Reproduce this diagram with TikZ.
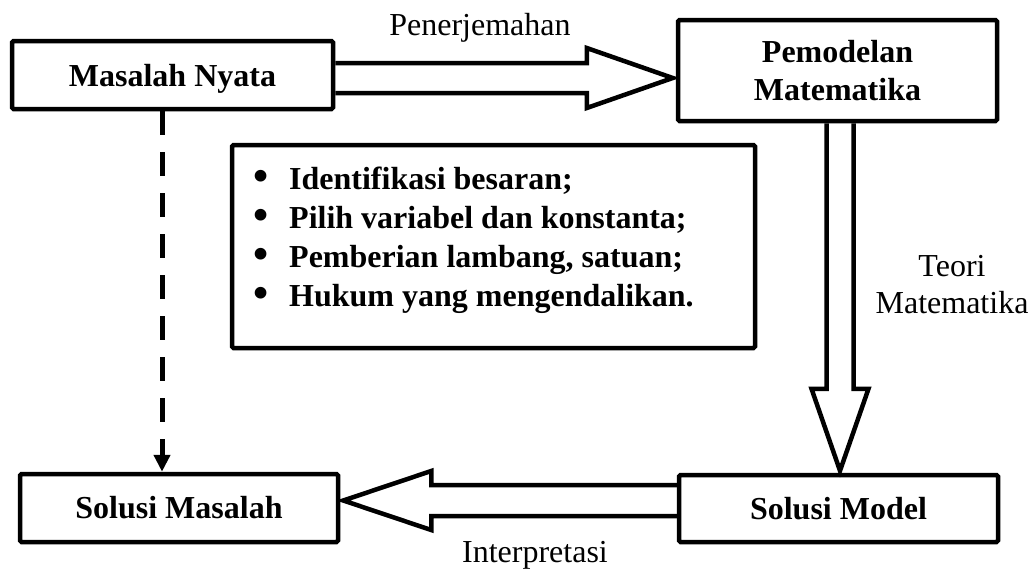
\documentclass[tikz,border=0pt]{standalone}
\usepackage{fontspec}
\setmainfont{Liberation Serif}
\usetikzlibrary{calc,arrows.meta}
\newcommand{\bulitem}{\makebox[35.5pt][l]{\raisebox{-1.5pt}{\scalebox{1.35}{•}}}}
\begin{document}
\begin{tikzpicture}[x=1pt,y=-1pt,
  box/.style={draw, line width=4.5pt, rounded corners=1.5pt, font=\bfseries\fontsize{32}{38}\selectfont, align=center, inner sep=0pt},
  barrow/.style={draw, line width=4.5pt, line join=miter},
  lbl/.style={font=\fontsize{32}{37}\selectfont, align=center, inner sep=0pt},
  dasharrow/.style={line width=5pt, dash pattern=on 24pt off 17pt, -{Triangle[width=16pt,length=17pt]}}]
\useasboundingbox (0,0) rectangle (1035,570);

% boxes
\node[box, minimum width=321pt, minimum height=68pt, text depth=0pt] (mn) at (172.5,75) {Masalah Nyata};
\node[box, minimum width=319pt, minimum height=101pt] (pm) at (837.5,70.5) {Pemodelan\\Matematika};
\node[box, minimum width=319pt, minimum height=67pt] (sm) at (838.5,508.5) {Solusi Model};
\node[box, minimum width=318pt, minimum height=68pt] (sms) at (179,508) {Solusi Masalah};
\node[box, minimum width=523pt, minimum height=203pt] (lb) at (493.5,246.5) {};
\node[anchor=west, font=\bfseries\fontsize{32}{39}\selectfont, align=left, inner sep=0pt] (lt) at (253.5,240)
  {\bulitem Identifikasi besaran;\\
   \bulitem Pilih variabel dan konstanta;\\
   \bulitem Pemberian lambang, satuan;\\
   \bulitem Hukum yang mengendalikan.};

% labels
\node[lbl, anchor=base] (pen) at (480,35) {Penerjemahan};
\node[lbl, anchor=base] (int) at (535,562) {Interpretasi};
\node[lbl] (teo) at (952,285) {Teori\\Matematika};

% top block arrow
\coordinate (ya) at (0,78);
\coordinate (A0) at (mn.east |- ya);
\coordinate (A1) at ($(pm.west |- ya)+(-3,0)$);
\draw[barrow] ($(A0)+(0,-15)$) -- ($(A1)+(-86,-15)$) -- ($(A1)+(-86,-30)$) -- (A1)
  -- ($(A1)+(-86,30)$) -- ($(A1)+(-86,15)$) -- ($(A0)+(0,15)$);

% vertical block arrow
\coordinate (xv) at (840,0);
\coordinate (B0) at (pm.south -| xv);
\coordinate (B1) at ($(sm.north -| xv)+(0,-2)$);
\draw[barrow] ($(B0)+(-13.5,0)$) -- ($(B1)+(-13.5,-82)$) -- ($(B1)+(-28.5,-82)$) -- (B1)
  -- ($(B1)+(28.5,-82)$) -- ($(B1)+(13.5,-82)$) -- ($(B0)+(13.5,0)$);

% bottom block arrow
\coordinate (yc) at (0,500.5);
\coordinate (C0) at (sm.west |- yc);
\coordinate (C1) at ($(sms.east |- yc)+(3,0)$);
\draw[barrow] ($(C0)+(0,-15.5)$) -- ($(C1)+(88,-15.5)$) -- ($(C1)+(88,-29.5)$) -- (C1)
  -- ($(C1)+(88,29.5)$) -- ($(C1)+(88,15.5)$) -- ($(C0)+(0,15.5)$);

% dashed arrow
\coordinate (dx) at (162,0);
\draw[dasharrow] (mn.south -| dx) -- (sms.north -| dx);
\end{tikzpicture}
\end{document}
